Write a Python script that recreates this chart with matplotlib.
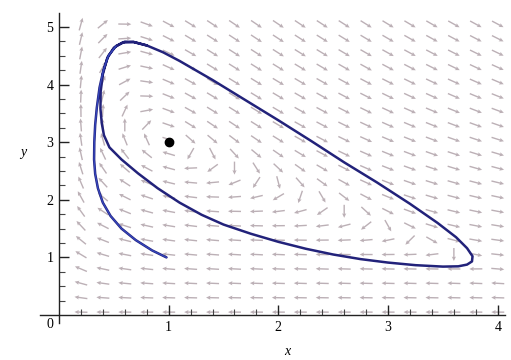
import numpy as np
import matplotlib
matplotlib.use("Agg")
import matplotlib.pyplot as plt

# ---- data ----
# trajectory points (x, y)
traj_x = [0.98, 0.85, 0.70, 0.57, 0.47, 0.40, 0.355, 0.33, 0.32, 0.322, 0.33, 0.345, 0.37, 0.405,
          0.45, 0.52, 0.60, 0.68, 0.80, 0.95, 1.10, 1.40, 1.70, 2.00, 2.30, 2.60, 2.90, 3.20,
          3.45, 3.62, 3.72, 3.77, 3.765, 3.72, 3.64, 3.50, 3.25, 3.00, 2.75, 2.50, 2.25, 2.00,
          1.75, 1.50, 1.30, 1.10, 0.90, 0.72, 0.57, 0.46, 0.41, 0.39, 0.378, 0.38, 0.40, 0.44,
          0.50, 0.58, 0.68, 0.80]
traj_y = [1.00, 1.12, 1.30, 1.50, 1.72, 1.95, 2.20, 2.45, 2.70, 3.00, 3.30, 3.60, 3.95, 4.25,
          4.50, 4.67, 4.745, 4.74, 4.68, 4.56, 4.41, 4.08, 3.73, 3.38, 3.02, 2.65, 2.30, 1.93,
          1.60, 1.35, 1.16, 1.02, 0.93, 0.875, 0.845, 0.84, 0.865, 0.91, 0.97, 1.05, 1.15, 1.27,
          1.41, 1.57, 1.74, 1.95, 2.20, 2.46, 2.70, 2.91, 3.12, 3.33, 3.58, 3.88, 4.18, 4.46,
          4.64, 4.73, 4.74, 4.68]
equilibrium_x = [1.0]
equilibrium_y = [3.0]

x_ticks = [1, 2, 3, 4]
y_ticks = [1, 2, 3, 4, 5]

# direction field model coefficients (the system being drawn)
field_coef = dict(cx=3.0, ex=0.75, ky=0.6)

def field(x, y):
    u = x * (y - field_coef["cx"] + field_coef["ex"] * (x - 1.0))
    v = field_coef["ky"] * y * (1.0 - x * y / 3.0)
    return u, v

# ---- figure ----
W, H = 511, 360
fig = plt.figure(figsize=(W / 100, H / 100), dpi=100)
x0px, x1px = 40, 505
ytop, ybot = 13, 323
ax = fig.add_axes([x0px / W, (H - ybot) / H, (x1px - x0px) / W, (ybot - ytop) / H])
xmin, xmax = -0.173, 4.066
ymin, ymax = -0.139, 5.243
ax.set_xlim(xmin, xmax)
ax.set_ylim(ymin, ymax)

# pixel scale for fixed-length arrows
sx = (x1px - x0px) / (xmax - xmin)
sy = (ybot - ytop) / (ymax - ymin)
gx = np.arange(0.2, 4.01, 0.2)
gy = np.arange(0.05, 5.06, 0.25)
X, Y = np.meshgrid(gx, gy)
U, V = field(X, Y)
px, py = U * sx, V * sy
n = np.hypot(px, py)
n[n == 0] = 1
L = 13.0
Ud = px / n * L / sx
Vd = py / n * L / sy
ax.quiver(X, Y, Ud, Vd, angles='xy', scale_units='xy', scale=1, pivot='mid',
          color='#bcb0b6', width=0.003, headwidth=3, headlength=3.2, headaxislength=2.8,
          zorder=1)

ax.plot(traj_x, traj_y, color='#22227a', lw=1.8, zorder=3, solid_joinstyle='round',
        solid_capstyle='round')
ax.plot(traj_x[:16], traj_y[:16], color='#3b50d0', lw=0.9, zorder=4, alpha=0.8)
ax.plot(equilibrium_x, equilibrium_y, 'o', color='black', ms=6, zorder=5)

for s in ['top', 'right']:
    ax.spines[s].set_visible(False)
for s in ['left', 'bottom']:
    ax.spines[s].set_color('#222222')
    ax.spines[s].set_linewidth(1.0)
    ax.spines[s].set_position(('data', 0))

serif = ['Liberation Serif', 'DejaVu Serif']
ax.set_xticks(x_ticks)
ax.set_yticks(y_ticks)
ax.set_xticks(np.arange(0.2, 4.01, 0.2), minor=True)
ax.set_yticks(np.arange(0.25, 5.2, 0.25), minor=True)
ax.tick_params(which='major', direction='in', length=7, width=1.0, color='#222222', pad=4)
ax.tick_params(which='minor', direction='in', length=4, width=0.8, color='#444444')
ax.set_xticklabels([str(t) for t in x_ticks], family=serif, fontsize=10)
ax.set_yticklabels([str(t) for t in y_ticks], family=serif, fontsize=10)
ax.text(-0.05, -0.05, '0', ha='right', va='top', family=serif, fontsize=10)
ax.text(2.08, -0.52, 'x', ha='center', va='top', family=serif, fontsize=10, style='italic')
ax.text(-0.33, 2.82, 'y', ha='center', va='center', family=serif, fontsize=10, style='italic')

fig.savefig('out.png', dpi=100)
